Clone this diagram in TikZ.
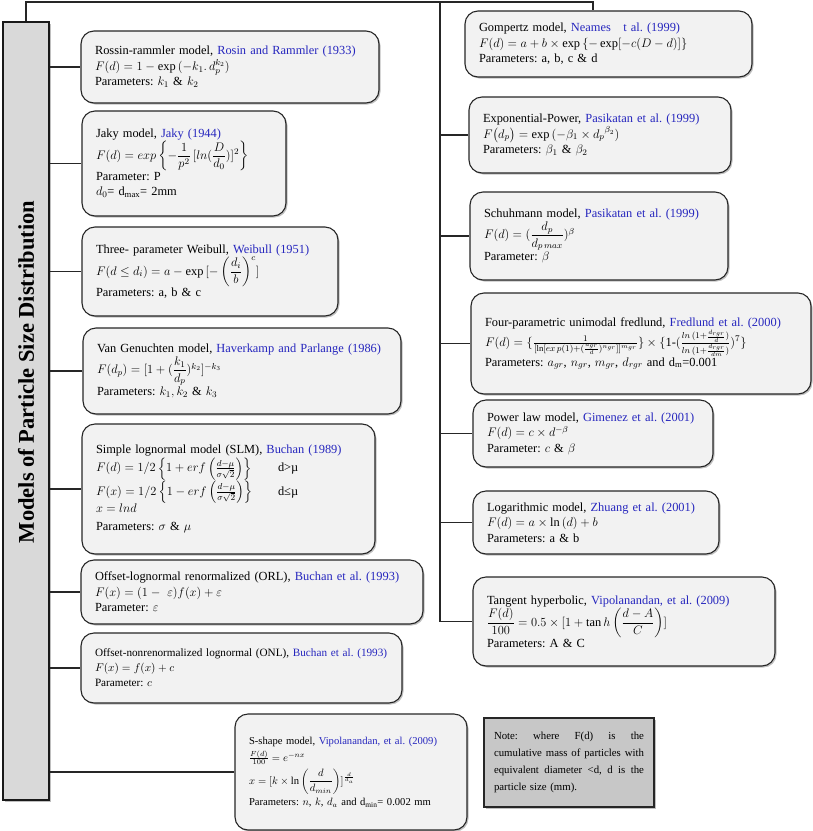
\documentclass[tikz,border=0pt]{standalone}
\usepackage{fix-cm}
\usepackage{amsmath,amssymb}
\usepackage{fontspec}
\setmainfont{Liberation Serif}
\usetikzlibrary{shadows}
\definecolor{citeblue}{RGB}{38,38,190}
\newcommand{\cit}[1]{\textcolor{citeblue}{#1}}
\newcommand{\lowtxt}[1]{\textsubscript{#1}}
\newcommand{\fullline}[1]{\makebox[150pt][l]{#1}}

\begin{document}
\begin{tikzpicture}[x=1pt, y=-1pt,
	model/.style={draw=black!85, line width=1.1pt, rounded corners=13pt, fill=black!5,
		drop shadow={shadow xshift=1.5pt, shadow yshift=-1.5pt, fill=black!50},
		inner xsep=14pt, inner ysep=3pt, align=left, font=\fontsize{12.4}{15.5}\selectfont\frenchspacing},
	notebox/.style={draw=black!85, line width=1.1pt, fill=black!22,
		drop shadow={shadow xshift=1.5pt, shadow yshift=-1.5pt, fill=black!50},
		inner xsep=10pt, text width=150pt, align=left, font=\fontsize{10.8}{17}\selectfont\frenchspacing},
	link/.style={draw=black!85, line width=1.1pt}]
		\useasboundingbox (0,0) rectangle (813,831);
		\node[draw=black!90, line width=1.6pt, fill=black!15, minimum width=46pt, minimum height=778pt, inner sep=0pt,
			drop shadow={shadow xshift=1.5pt, shadow yshift=-1.5pt, fill=black!50}] (title) at (26,411) {};
		\node[rotate=90, font=\fontsize{22.5}{26}\selectfont\bfseries] (titletext) at (26,372) {Models of Particle Size Distribution};

		\node[model, text width=270pt, minimum height=72pt] (ross) at (230,67) {Rossin-rammler model, \cit{Rosin and Rammler (1933)}\\ $F(d) = 1-\exp\,(-k_1.\,d_p^{k_2})$\\ Parameters: $k_1$ \& $k_2$};
		\node[model, text width=176pt, minimum height=105pt] (jaky) at (184,163.5) {Jaky model, \cit{Jaky (1944)}\\ $F(d) = exp\left\{-\dfrac{1}{p^2}\,[ln(\dfrac{D}{d_0})]^2\right\}$\\ Parameter: P\\ $d_0$= d\lowtxt{max}= 2mm};
		\node[model, text width=228pt, minimum height=89pt] (weib) at (210,271.5) {Three- parameter Weibull, \cit{Weibull (1951)}\\ $F(d\le d_i) = a-\exp\,[-\left(\dfrac{d_i}{b}\right)^c]$\\ Parameters: a, b \& c};
		\node[model, text width=290pt, minimum height=86pt] (vang) at (242,371) {Van Genuchten model, \cit{Haverkamp and Parlange (1986)}\\ $F(d_p) = [1+(\dfrac{k_1}{d_p})^{k_2}]^{-k_3}$\\ Parameters: $k_1, k_2$ \& $k_3$};
		\node[model, text width=265pt, minimum height=130pt] (slm) at (228.5,489) {Simple lognormal model (SLM), \cit{Buchan (1989)}\\
			\makebox[182pt][l]{$F(d) = 1/2\left\{1+erf\left(\frac{d-\mu}{\sigma\sqrt{2}}\right)\right\}$}d>µ\\
			\makebox[182pt][l]{$F(x) = 1/2\left\{1-erf\left(\frac{d-\mu}{\sigma\sqrt{2}}\right)\right\}$}d≤µ\\
			$x = lnd$\\[2pt] Parameters: $\sigma$ \& $\mu$};
		\node[model, text width=314pt, minimum height=64pt] (orl) at (252,592) {Offset-lognormal renormalized (ORL), \cit{Buchan et al. (1993)}\\ $F(x) = (1-\ \varepsilon)f(x)+\varepsilon$\\ Parameter: $\varepsilon$};
		\node[model, text width=293pt, minimum height=70pt, font=\fontsize{11.2}{15}\selectfont\frenchspacing] (onl) at (241.5,668) {Offset-nonrenormalized lognormal (ONL), \cit{Buchan et al. (1993)}\\ $F(x) = f(x)+c$\\ Parameter: $c$};
		\node[model, text width=204pt, minimum height=116pt, font=\fontsize{10.6}{15}\selectfont\frenchspacing] (sshape) at (351,772) {S-shape model, \cit{Vipolanandan, et al. (2009)}\\[2pt] $\tfrac{F(d)}{100} = e^{-nx}$\\[3pt] $x = [k\times\ln\left(\dfrac{d}{d_{min}}\right)]^{\frac{d}{d_a}}$\\[3pt] Parameters: $n$, $k$, $d_a$ and d\lowtxt{min}= 0.002 mm};
		\node[notebox, minimum height=89pt] (note) at (569,762.5) {\fullline{Note:\hfill where\hfill F(d)\hfill is\hfill the}\\ \fullline{cumulative\hfill mass\hfill of\hfill particles\hfill with}\\ \fullline{equivalent\hfill diameter\hfill <d,\hfill d\hfill is\hfill the}\\ particle size (mm).};

		\node[model, text width=259pt, minimum height=66pt] (gomp) at (608.5,44) {Gompertz model, \cit{Neames\ \ \ t al. (1999)}\\ $F(d) = a+b\times\exp\,\{-\exp[-c(D-d)]\}$\\ Parameters: a, b, c \& d};
		\node[model, text width=234pt, minimum height=76pt] (expo) at (600,135) {Exponential-Power, \cit{Pasikatan et al. (1999)}\\ $F\big(d_p\big) = \exp\,(-\beta_1\times {d_p}^{\beta_2})$\\ Parameters: $\beta_1$ \& $\beta_2$};
		\node[model, text width=230pt, minimum height=88pt] (schu) at (599,236) {Schuhmann model, \cit{Pasikatan et al. (1999)}\\ $F(d) = (\dfrac{d_p}{d_{p\,max}})^\beta$\\ Parameter: $\beta$};
		\node[model, text width=312pt, minimum height=101pt] (fred) at (641,343.5) {Four-parametric unimodal fredlund, \cit{Fredlund et al. (2000)}\\
			$F(d) = \{\frac{1}{[\ln[ex\,p(1)+(\frac{a_{gr}}{d})^{n_{gr}}]]^{m_{gr}}}\}\times\{\text{1-}(\frac{ln\,(1+\frac{d_{rgr}}{d})}{ln\,(1+\frac{d_{rgr}}{dm})})^7\}$\\
			Parameters: $a_{gr}$, $n_{gr}$, $m_{gr}$, $d_{rgr}$ and d\lowtxt{m}=0.001};
		\node[model, text width=212pt, minimum height=67pt] (powr) at (593,433.5) {Power law model, \cit{Gimenez et al. (2001)}\\ $F(d) = c\times d^{-\beta}$\\ Parameter: $c$ \& $\beta$};
		\node[model, text width=218pt, minimum height=63pt] (logm) at (596,522.5) {Logarithmic model, \cit{Zhuang et al. (2001)}\\ $F(d) = a\times\ln\,(d)+b$\\ Parameters: a \& b};
		\node[model, text width=274pt, minimum height=89pt] (tanh) at (624,621.5) {Tangent hyperbolic, \cit{Vipolanandan, et al. (2009)}\\ $\dfrac{F(d)}{100} = 0.5\times[1+\tan h\left(\dfrac{d-A}{C}\right)]$\\ Parameters: A \& C};

		\coordinate (topR) at (593,2);
		\coordinate (trunkR) at (440,2);
		\draw[link] (title.north) |- (topR) -- (topR |- gomp.north);
		\draw[link] (trunkR) -- (trunkR |- tanh.west) -- (tanh.west);
		\foreach \b in {expo,schu,fred,powr,logm}
			\draw[link] (trunkR |- \b.west) -- (\b.west);
		\foreach \b in {ross,jaky,weib,vang,slm,orl,onl,sshape}
			\draw[link] (title.east |- \b.west) -- (\b.west);
	\end{tikzpicture}
\end{document}
